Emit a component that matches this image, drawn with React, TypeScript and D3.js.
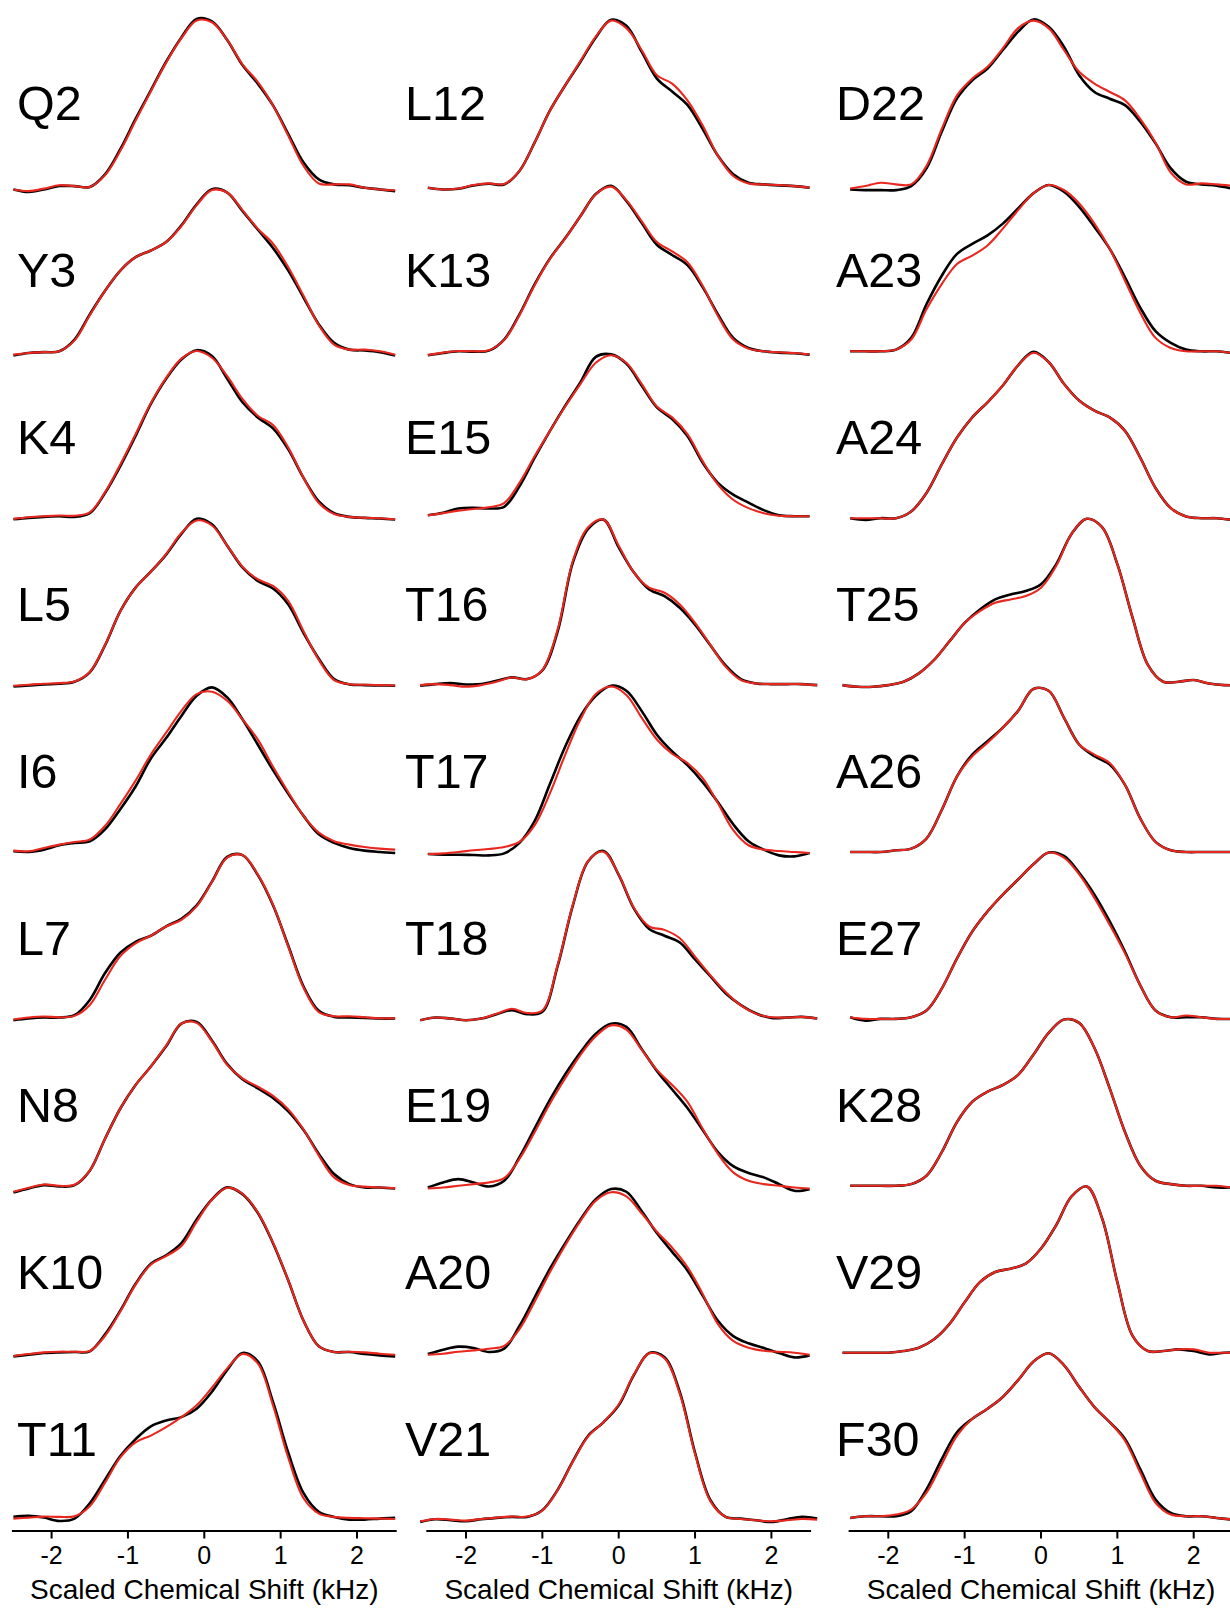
import React, { useEffect, useRef } from "react";
import * as d3 from "d3";

// Sampled chemical-shift positions (kHz)
const SHIFT = [-2.5, -2.3, -2.1, -1.9, -1.7, -1.5, -1.3, -1.1, -0.9, -0.7, -0.5, -0.3, -0.1, 0.1, 0.3, 0.5, 0.7, 0.9, 1.1, 1.3, 1.5, 1.7, 1.9, 2.1, 2.3, 2.5];
const SHIFT_WIDE = [-2.6, -2.4, -2.2, -2.0, -1.8, -1.6, -1.4, -1.2, -1.0, -0.8, -0.6, -0.4, -0.2, 0, 0.2, 0.4, 0.6, 0.8, 1.0, 1.2, 1.4, 1.6, 1.8, 2.0, 2.2, 2.4, 2.6];
const TICKS = [-2, -1, 0, 1, 2];
const AXIS_TITLE = "Scaled Chemical Shift (kHz)";

const COLUMN_LABELS = [
  ["Q2", "Y3", "K4", "L5", "I6", "L7", "N8", "K10", "T11"],
  ["L12", "K13", "E15", "T16", "T17", "T18", "E19", "A20", "V21"],
  ["D22", "A23", "A24", "T25", "A26", "E27", "K28", "V29", "F30"],
];
// residues recorded over the wider window (SHIFT_WIDE)
const WIDE = ["T16", "T18", "V21", "T25", "V29"];

// normalised intensities: experimental (black) and simulated (red)
const q2Exp = [-0.03, -0.045, -0.03, -0.01, -0.01, -0.015, 0.06, 0.21, 0.39, 0.56, 0.73, 0.875, 0.985, 0.97, 0.86, 0.71, 0.6, 0.47, 0.3, 0.13, 0.03, 0.0, -0.005, -0.02, -0.03, -0.04];
const q2Sim = [-0.03, -0.04, -0.025, -0.005, -0.01, -0.015, 0.055, 0.2, 0.38, 0.555, 0.725, 0.87, 0.975, 0.965, 0.86, 0.715, 0.61, 0.47, 0.29, 0.11, 0.005, 0.0, 0.0, -0.02, -0.03, -0.035];
const y3Exp = [-0.025, -0.01, -0.005, 0, 0.07, 0.22, 0.36, 0.48, 0.56, 0.6, 0.65, 0.75, 0.875, 0.965, 0.945, 0.835, 0.725, 0.615, 0.48, 0.32, 0.16, 0.05, 0.01, 0.005, -0.005, -0.025];
const y3Sim = [-0.02, -0.01, -0.005, 0, 0.065, 0.215, 0.36, 0.48, 0.56, 0.6, 0.65, 0.745, 0.87, 0.96, 0.945, 0.84, 0.73, 0.64, 0.5, 0.33, 0.155, 0.04, 0.01, 0.01, 0, -0.02];
const k4Exp = [-0.006, 0.002, 0.008, 0.012, 0.008, 0.03, 0.15, 0.31, 0.49, 0.68, 0.83, 0.945, 1.0, 0.965, 0.83, 0.69, 0.6, 0.535, 0.41, 0.24, 0.1, 0.03, 0.008, 0.002, -0.002, -0.008];
const k4Sim = [-0.004, 0.006, 0.012, 0.016, 0.015, 0.035, 0.155, 0.32, 0.5, 0.685, 0.835, 0.95, 0.995, 0.955, 0.845, 0.71, 0.61, 0.555, 0.42, 0.24, 0.09, 0.025, 0.008, 0.002, 0, -0.006];
const l5Exp = [-0.008, -0.002, 0.004, 0.008, 0.02, 0.076, 0.237, 0.44, 0.58, 0.675, 0.777, 0.9, 0.99, 0.957, 0.83, 0.7, 0.62, 0.575, 0.48, 0.31, 0.157, 0.036, 0.004, 0, -0.002, -0.004];
const l5Sim = [-0.004, 0.002, 0.008, 0.012, 0.022, 0.078, 0.24, 0.44, 0.58, 0.675, 0.78, 0.905, 0.98, 0.95, 0.83, 0.705, 0.63, 0.59, 0.5, 0.32, 0.15, 0.03, 0.006, 0.002, 0, -0.002];
const i6Exp = [0.004, 0, 0.014, 0.04, 0.054, 0.064, 0.135, 0.255, 0.39, 0.557, 0.678, 0.81, 0.93, 0.98, 0.92, 0.79, 0.64, 0.487, 0.346, 0.215, 0.105, 0.054, 0.024, 0.008, 0, -0.006];
const i6Sim = [0.008, 0.004, 0.024, 0.044, 0.06, 0.074, 0.155, 0.285, 0.425, 0.58, 0.71, 0.84, 0.94, 0.954, 0.9, 0.79, 0.67, 0.507, 0.356, 0.215, 0.115, 0.064, 0.044, 0.03, 0.02, 0.014];
const l7Exp = [-0.008, 0.002, 0.008, 0.008, 0.022, 0.113, 0.273, 0.394, 0.459, 0.495, 0.551, 0.596, 0.676, 0.817, 0.965, 0.975, 0.857, 0.676, 0.435, 0.193, 0.048, 0.012, 0.008, 0.006, 0.002, 0.002];
const l7Sim = [-0.004, 0.008, 0.014, 0.01, 0.018, 0.083, 0.233, 0.374, 0.45, 0.495, 0.55, 0.59, 0.67, 0.815, 0.96, 0.975, 0.86, 0.68, 0.43, 0.185, 0.04, 0.016, 0.016, 0.01, 0.004, 0.004];
const n8Exp = [-0.04, -0.016, 0.004, -0.004, 0.004, 0.09, 0.28, 0.46, 0.6, 0.71, 0.83, 0.965, 0.975, 0.865, 0.724, 0.634, 0.58, 0.523, 0.443, 0.332, 0.19, 0.07, 0.01, -0.01, -0.01, -0.016];
const n8Sim = [-0.036, -0.012, 0.008, 0, 0.006, 0.09, 0.28, 0.46, 0.6, 0.71, 0.835, 0.965, 0.97, 0.86, 0.72, 0.64, 0.59, 0.535, 0.455, 0.335, 0.18, 0.05, 0.005, -0.005, -0.01, -0.014];
const k10Exp = [-0.022, -0.012, -0.002, 0.002, 0.004, 0.008, 0.109, 0.25, 0.41, 0.53, 0.58, 0.652, 0.793, 0.913, 0.984, 0.944, 0.833, 0.652, 0.43, 0.19, 0.038, 0.004, 0.004, -0.008, -0.016, -0.022];
const k10Sim = [-0.02, -0.008, 0.002, 0.006, 0.006, 0.01, 0.1, 0.245, 0.405, 0.525, 0.575, 0.635, 0.78, 0.91, 0.982, 0.946, 0.836, 0.655, 0.43, 0.19, 0.038, 0.004, 0.006, 0.002, -0.006, -0.012];
const t11Exp = [0.016, 0.022, 0.012, -0.008, 0.006, 0.097, 0.237, 0.378, 0.479, 0.555, 0.59, 0.61, 0.66, 0.761, 0.891, 0.992, 0.942, 0.7, 0.398, 0.157, 0.046, 0.016, 0, 0, 0.006, 0.01];
const t11Sim = [0.006, 0.012, 0.018, 0.016, 0.02, 0.08, 0.22, 0.37, 0.46, 0.5, 0.55, 0.61, 0.68, 0.785, 0.9, 0.986, 0.93, 0.68, 0.368, 0.127, 0.036, 0.016, 0.01, 0.008, 0.006, 0.004];

const l12Exp = [-0.02, -0.03, -0.026, -0.006, 0.004, 0, 0.08, 0.25, 0.44, 0.59, 0.73, 0.875, 0.98, 0.944, 0.79, 0.63, 0.553, 0.473, 0.33, 0.17, 0.06, 0.01, 0, -0.006, -0.01, -0.02];
const l12Sim = [-0.02, -0.03, -0.024, -0.004, 0.006, 0.002, 0.08, 0.25, 0.44, 0.59, 0.735, 0.88, 0.975, 0.93, 0.8, 0.65, 0.6, 0.5, 0.35, 0.17, 0.05, 0.005, 0.0, -0.004, -0.01, -0.018];
const k13Exp = [-0.024, -0.01, 0, -0.002, 0.004, 0.07, 0.22, 0.4, 0.553, 0.674, 0.805, 0.936, 0.985, 0.895, 0.765, 0.634, 0.573, 0.513, 0.382, 0.22, 0.08, 0.02, 0, -0.008, -0.012, -0.02];
const k13Sim = [-0.022, -0.008, 0.002, 0, 0.006, 0.068, 0.215, 0.395, 0.55, 0.672, 0.805, 0.935, 0.98, 0.9, 0.775, 0.65, 0.595, 0.53, 0.39, 0.21, 0.07, 0.016, 0, -0.006, -0.01, -0.018];
const e15Exp = [0.018, 0.032, 0.058, 0.062, 0.058, 0.068, 0.19, 0.36, 0.52, 0.67, 0.81, 0.96, 0.975, 0.92, 0.79, 0.66, 0.59, 0.49, 0.33, 0.21, 0.14, 0.093, 0.048, 0.018, 0.012, 0.012];
const e15Sim = [0.018, 0.03, 0.045, 0.055, 0.065, 0.09, 0.21, 0.37, 0.52, 0.665, 0.8, 0.925, 0.97, 0.925, 0.8, 0.665, 0.6, 0.5, 0.34, 0.2, 0.11, 0.06, 0.03, 0.015, 0.012, 0.012];
const t16Exp = [-0.004, 0.006, 0.012, 0.004, 0.006, 0.026, 0.046, 0.036, 0.087, 0.318, 0.73, 0.93, 0.985, 0.82, 0.67, 0.569, 0.529, 0.46, 0.36, 0.237, 0.117, 0.036, 0.01, 0.006, 0.006, 0.006, 0];
const t16Sim = [0, 0.006, 0.0, -0.01, 0.0, 0.02, 0.045, 0.035, 0.09, 0.33, 0.74, 0.94, 0.985, 0.83, 0.67, 0.58, 0.55, 0.48, 0.37, 0.24, 0.11, 0.03, 0.01, 0.006, 0.006, 0.006, 0];
const t17Exp = [-0.012, -0.016, -0.016, -0.018, -0.02, -0.008, 0.054, 0.185, 0.406, 0.628, 0.809, 0.93, 0.99, 0.96, 0.84, 0.698, 0.598, 0.517, 0.416, 0.296, 0.165, 0.064, 0.014, -0.02, -0.026, -0.006];
const t17Sim = [-0.012, -0.008, 0, 0.01, 0.018, 0.03, 0.06, 0.16, 0.35, 0.58, 0.79, 0.94, 0.985, 0.935, 0.8, 0.67, 0.585, 0.53, 0.44, 0.29, 0.13, 0.04, 0.014, 0.006, 0, -0.006];
const t18Exp = [-0.008, 0.008, 0.002, -0.008, 0.002, 0.028, 0.052, 0.028, 0.042, 0.314, 0.676, 0.938, 1.0, 0.857, 0.656, 0.535, 0.495, 0.455, 0.354, 0.254, 0.153, 0.082, 0.032, 0.006, 0.008, 0.012, 0.002];
const t18Sim = [-0.008, 0.008, 0.002, -0.008, 0.002, 0.03, 0.06, 0.035, 0.05, 0.32, 0.68, 0.94, 0.995, 0.86, 0.66, 0.55, 0.53, 0.48, 0.37, 0.26, 0.16, 0.08, 0.03, 0.01, 0.008, 0.012, 0.002];
const e19Exp = [-0.01, 0.02, 0.04, 0.02, -0.004, 0.03, 0.17, 0.342, 0.513, 0.664, 0.795, 0.905, 0.965, 0.946, 0.815, 0.684, 0.573, 0.463, 0.332, 0.201, 0.117, 0.076, 0.05, 0.01, -0.03, -0.02];
const e19Sim = [-0.016, -0.01, 0, 0.01, 0.02, 0.045, 0.16, 0.32, 0.49, 0.64, 0.78, 0.89, 0.955, 0.93, 0.81, 0.69, 0.6, 0.5, 0.34, 0.19, 0.08, 0.03, 0.01, 0, -0.01, -0.016];
const a20Exp = [-0.008, 0.018, 0.036, 0.028, 0.004, 0.024, 0.159, 0.33, 0.5, 0.652, 0.793, 0.913, 0.974, 0.958, 0.843, 0.712, 0.6, 0.49, 0.34, 0.19, 0.099, 0.056, 0.028, -0.002, -0.028, -0.016];
const a20Sim = [-0.012, -0.006, 0.006, 0.014, 0.024, 0.04, 0.14, 0.305, 0.48, 0.64, 0.785, 0.905, 0.955, 0.93, 0.83, 0.72, 0.625, 0.51, 0.35, 0.17, 0.07, 0.03, 0.012, 0.006, 0, -0.012];
const v21Exp = [-0.014, 0.002, -0.004, -0.01, 0.002, 0.01, 0.016, 0.016, 0.056, 0.177, 0.348, 0.499, 0.579, 0.68, 0.861, 0.992, 0.966, 0.76, 0.398, 0.117, 0.016, 0.006, -0.004, -0.014, 0.002, 0.016, 0.006];
const v21Sim = [-0.01, 0.004, 0.0, -0.006, 0.004, 0.012, 0.018, 0.018, 0.054, 0.175, 0.345, 0.495, 0.58, 0.685, 0.865, 0.99, 0.96, 0.75, 0.39, 0.11, 0.016, 0.004, -0.004, -0.01, -0.004, 0.004, 0.0];

const d22Exp = [-0.03, -0.034, -0.034, -0.034, -0.01, 0.095, 0.313, 0.512, 0.62, 0.69, 0.8, 0.909, 0.982, 0.938, 0.82, 0.65, 0.55, 0.51, 0.472, 0.373, 0.244, 0.095, 0.016, 0, -0.008, -0.024];
const d22Sim = [-0.024, -0.01, 0.01, 0, 0, 0.11, 0.33, 0.53, 0.63, 0.7, 0.81, 0.93, 0.975, 0.93, 0.8, 0.67, 0.6, 0.55, 0.5, 0.39, 0.25, 0.07, 0, 0.006, 0, -0.008];
const a23Exp = [0, 0, 0, 0.01, 0.08, 0.28, 0.45, 0.58, 0.64, 0.69, 0.76, 0.85, 0.94, 0.99, 0.95, 0.86, 0.74, 0.61, 0.44, 0.26, 0.12, 0.05, 0.01, 0, 0, -0.01];
const a23Sim = [0, 0, 0, 0.01, 0.07, 0.25, 0.4, 0.52, 0.57, 0.63, 0.73, 0.84, 0.94, 0.99, 0.96, 0.88, 0.76, 0.61, 0.42, 0.23, 0.08, 0.02, 0, 0, 0, -0.01];
const a24Exp = [0, -0.01, 0, 0, 0.04, 0.15, 0.32, 0.48, 0.6, 0.69, 0.79, 0.91, 0.99, 0.93, 0.8, 0.7, 0.64, 0.6, 0.52, 0.36, 0.18, 0.06, 0.01, 0, 0, -0.01];
const a24Sim = [0, 0, 0, 0, 0.04, 0.15, 0.32, 0.48, 0.6, 0.69, 0.79, 0.91, 0.985, 0.93, 0.8, 0.7, 0.64, 0.6, 0.52, 0.36, 0.18, 0.06, 0.01, 0, 0, -0.01];
const t25Exp = [0, -0.01, -0.01, 0, 0.02, 0.07, 0.15, 0.26, 0.37, 0.45, 0.51, 0.54, 0.56, 0.6, 0.72, 0.9, 0.99, 0.94, 0.72, 0.4, 0.12, 0.02, 0.02, 0.03, 0.01, 0, 0];
const t25Sim = [0, -0.01, -0.01, 0, 0.02, 0.07, 0.15, 0.26, 0.37, 0.44, 0.49, 0.51, 0.53, 0.58, 0.71, 0.9, 0.99, 0.94, 0.72, 0.4, 0.12, 0.02, 0.02, 0.03, 0.01, 0, 0];
const a26Exp = [0, 0, 0, 0.01, 0.02, 0.08, 0.25, 0.45, 0.58, 0.66, 0.74, 0.84, 0.97, 0.96, 0.8, 0.64, 0.57, 0.52, 0.4, 0.2, 0.06, 0.01, 0, 0, 0, 0];
const a26Sim = [0, 0, 0, 0.01, 0.02, 0.08, 0.25, 0.45, 0.57, 0.65, 0.74, 0.84, 0.97, 0.96, 0.8, 0.64, 0.58, 0.53, 0.4, 0.2, 0.06, 0.01, 0, 0, 0, 0];
const e27Exp = [0.01, -0.01, 0, 0, 0.01, 0.05, 0.18, 0.36, 0.52, 0.64, 0.74, 0.83, 0.92, 0.99, 0.97, 0.87, 0.74, 0.58, 0.4, 0.2, 0.05, 0.01, 0.01, 0.01, 0, 0];
const e27Sim = [0.01, 0, 0, 0, 0.01, 0.05, 0.18, 0.36, 0.52, 0.64, 0.74, 0.83, 0.92, 0.99, 0.96, 0.86, 0.72, 0.56, 0.39, 0.2, 0.05, 0.01, 0.02, 0.01, 0, 0];
const k28Exp = [0, 0, 0, 0, 0.01, 0.06, 0.2, 0.38, 0.5, 0.56, 0.6, 0.66, 0.78, 0.91, 0.99, 0.97, 0.82, 0.58, 0.32, 0.12, 0.03, 0.01, 0, 0, -0.01, -0.01];
const k28Sim = [0, 0, 0, 0, 0.01, 0.06, 0.2, 0.38, 0.5, 0.56, 0.6, 0.66, 0.78, 0.91, 0.99, 0.97, 0.82, 0.58, 0.32, 0.12, 0.03, 0.01, 0, 0, 0, -0.01];
const v29Exp = [0, 0, 0, 0, 0.01, 0.03, 0.08, 0.17, 0.3, 0.42, 0.48, 0.5, 0.53, 0.62, 0.76, 0.93, 0.99, 0.8, 0.42, 0.1, 0.01, 0.01, 0.02, 0.01, -0.01, 0, 0];
const v29Sim = [0, 0, 0, 0, 0.01, 0.03, 0.08, 0.17, 0.3, 0.42, 0.48, 0.5, 0.53, 0.62, 0.76, 0.93, 0.99, 0.8, 0.42, 0.1, 0.01, 0.01, 0.02, 0.02, 0, 0, 0];
const f30Exp = [0.01, 0.02, 0.02, 0.02, 0.05, 0.18, 0.36, 0.52, 0.6, 0.66, 0.73, 0.83, 0.94, 0.99, 0.92, 0.79, 0.67, 0.58, 0.48, 0.3, 0.12, 0.04, 0.02, 0.02, 0.01, 0];
const f30Sim = [0.01, 0.02, 0.02, 0.03, 0.06, 0.16, 0.33, 0.5, 0.6, 0.66, 0.73, 0.83, 0.94, 0.99, 0.92, 0.79, 0.67, 0.58, 0.47, 0.28, 0.1, 0.03, 0.02, 0.02, 0.01, 0];

const SPECTRA: Record<string, [number[], number[]]> = {
  Q2: [q2Exp, q2Sim], Y3: [y3Exp, y3Sim], K4: [k4Exp, k4Sim], L5: [l5Exp, l5Sim], I6: [i6Exp, i6Sim],
  L7: [l7Exp, l7Sim], N8: [n8Exp, n8Sim], K10: [k10Exp, k10Sim], T11: [t11Exp, t11Sim],
  L12: [l12Exp, l12Sim], K13: [k13Exp, k13Sim], E15: [e15Exp, e15Sim], T16: [t16Exp, t16Sim], T17: [t17Exp, t17Sim],
  T18: [t18Exp, t18Sim], E19: [e19Exp, e19Sim], A20: [a20Exp, a20Sim], V21: [v21Exp, v21Sim],
  D22: [d22Exp, d22Sim], A23: [a23Exp, a23Sim], A24: [a24Exp, a24Sim], T25: [t25Exp, t25Sim], A26: [a26Exp, a26Sim],
  E27: [e27Exp, e27Sim], K28: [k28Exp, k28Sim], V29: [v29Exp, v29Sim], F30: [f30Exp, f30Sim],
};

// layout
const WIDTH = 1230;
const HEIGHT = 1608;
const COL_ZERO = [204.3, 618.7, 1041];
const PX_PER_KHZ = 76.35;
const LABEL_X = [17, 405, 836];
const ROW_TOP = 16.4;
const ROW_STEP = 166.9;
const PANEL_H = 168;
const AXIS_Y = 1531;
const FONT = "'Liberation Sans', Arial, Helvetica, sans-serif";
const RED = "#e8281f";

export default function App() {
  const ref = useRef<SVGSVGElement | null>(null);

  useEffect(() => {
    const svg = d3.select(ref.current);
    svg.selectAll("*").remove();

    COLUMN_LABELS.forEach((labels, c) => {
      const x = d3
        .scaleLinear()
        .domain([-2.5, 2.5])
        .range([COL_ZERO[c] - 2.5 * PX_PER_KHZ, COL_ZERO[c] + 2.5 * PX_PER_KHZ]);

      const g = svg.append("g");

      labels.forEach((label, r) => {
        const top = ROW_TOP + r * ROW_STEP;
        const y = d3.scaleLinear().domain([0, 1]).range([top + PANEL_H, top]);
        const shifts = WIDE.includes(label) ? SHIFT_WIDE : SHIFT;
        const line = d3
          .line<number>()
          .x((_, i) => x(shifts[i]))
          .y((v) => y(v))
          .curve(d3.curveCatmullRom.alpha(0.5));
        const [exp, sim] = SPECTRA[label];

        g.append("text")
          .attr("x", LABEL_X[c])
          .attr("y", top + 104)
          .attr("font-family", FONT)
          .attr("font-size", 48.5)
          .attr("fill", "#000")
          .text(label);

        g.append("path")
          .attr("d", line(exp))
          .attr("fill", "none")
          .attr("stroke", "#000")
          .attr("stroke-width", 2.6)
          .attr("stroke-linejoin", "round");
        g.append("path")
          .attr("d", line(sim))
          .attr("fill", "none")
          .attr("stroke", RED)
          .attr("stroke-width", 2.1)
          .attr("stroke-linejoin", "round");
      });

      // x axis
      const [x0, x1] = x.range();
      g.append("line")
        .attr("x1", x0 - 1.5)
        .attr("x2", x1 + 1.5)
        .attr("y1", AXIS_Y)
        .attr("y2", AXIS_Y)
        .attr("stroke", "#000")
        .attr("stroke-width", 2);
      const ticks = g.selectAll(null).data(TICKS).enter().append("g")
        .attr("transform", (d) => `translate(${x(d)},${AXIS_Y})`);
      ticks.append("line").attr("y1", 0).attr("y2", 7.5).attr("stroke", "#000").attr("stroke-width", 2);
      ticks.append("text")
        .attr("y", 33)
        .attr("text-anchor", "middle")
        .attr("font-family", FONT)
        .attr("font-size", 25)
        .attr("fill", "#000")
        .text((d) => String(d));
      g.append("text")
        .attr("x", COL_ZERO[c])
        .attr("y", 1599)
        .attr("text-anchor", "middle")
        .attr("font-family", FONT)
        .attr("font-size", 28)
        .attr("fill", "#000")
        .text(AXIS_TITLE);
    });
  }, []);

  return (
    <svg
      ref={ref}
      width={WIDTH}
      height={HEIGHT}
      viewBox={`0 0 ${WIDTH} ${HEIGHT}`}
      style={{ position: "absolute", left: 0, top: 0, background: "#fff" }}
    />
  );
}
